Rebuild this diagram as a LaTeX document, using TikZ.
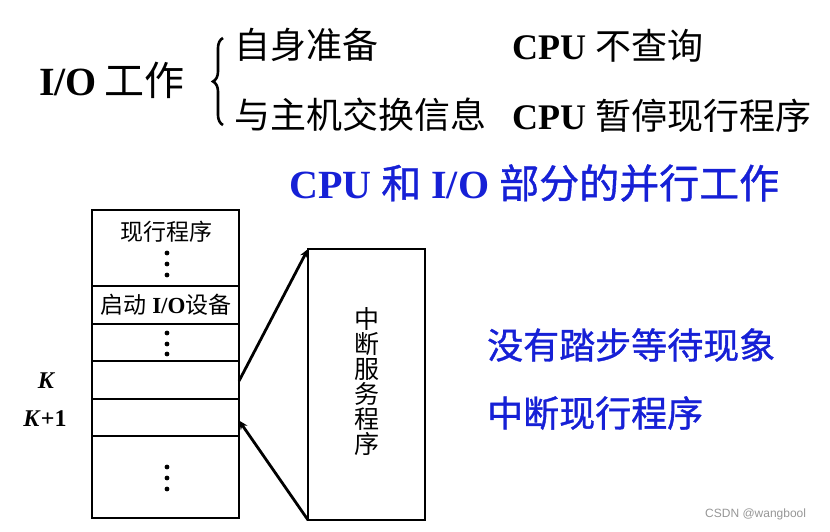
\documentclass[tikz,border=0pt]{standalone}
\usepackage{fontspec}
\setmainfont{Liberation Serif}
\newfontfamily\cjk{Noto Sans CJK SC}
\newfontfamily\cjkb[FakeBold=1]{Noto Sans CJK SC}
\newfontfamily\wm{Liberation Sans}
\usetikzlibrary{arrows.meta,decorations.pathreplacing}
\definecolor{tblue}{RGB}{22,32,214}
\definecolor{wmgray}{RGB}{150,150,150}
\begin{document}
\begin{tikzpicture}[x=1pt,y=-1pt,
  cell/.style={draw,line width=2.7pt,anchor=north west,minimum width=147pt,inner sep=0pt,outer sep=0pt},
  lbl/.style={inner sep=0pt,anchor=west},
  dot/.style={fill,circle,inner sep=0pt,minimum size=4.8pt},
  conn/.style={line width=2.8pt,-{Stealth[length=9pt,width=8pt]}}]
\useasboundingbox (0,0) rectangle (830,531);
% top section
\node[lbl,font=\bfseries\fontsize{40}{42}\selectfont] (io) at (39,80) {I/O\hspace{0.2em}{\cjk\mdseries 工作}};
\draw[line width=2.6pt,decorate,decoration={brace,amplitude=10pt}] (223,125) -- (223,38);
\node[lbl,font=\cjk\fontsize{36}{38}\selectfont] (self) at (234,45) {自身准备};
\node[lbl,font=\cjk\fontsize{36}{38}\selectfont] (exch) at (234,115) {与主机交换信息};
\node[lbl,font=\bfseries\fontsize{36}{38}\selectfont] (cpu1) at (512,46) {CPU {\cjk\mdseries 不查询}};
\node[lbl,font=\bfseries\fontsize{36}{38}\selectfont] (cpu2) at (512,116) {CPU {\cjk\mdseries 暂停现行程序}};
% blue title
\node[lbl,text=tblue,font=\bfseries\fontsize{40}{42}\selectfont] (title) at (289,183) {CPU {\cjkb\mdseries 和} I/O {\cjkb\mdseries 部分的并行工作}};
\node[lbl,text=tblue,font=\cjkb\fontsize{36}{38}\selectfont] (nowait) at (487,345) {没有踏步等待现象};
\node[lbl,text=tblue,font=\cjkb\fontsize{36}{38}\selectfont] (intr) at (487,413) {中断现行程序};
% program column
\node[cell,minimum height=76pt] (r1) at (92,210) {};
\node[cell,minimum height=38pt] (r2) at (92,286) {};
\node[cell,minimum height=37pt] (r3) at (92,324) {};
\node[cell,minimum height=38pt] (r4) at (92,361) {};
\node[cell,minimum height=37pt] (r5) at (92,399) {};
\node[cell,minimum height=82pt] (r6) at (92,436) {};
\node[font=\cjk\fontsize{23}{25}\selectfont,inner sep=0pt] (t1) at (166,232) {现行程序};
\node[font=\fontsize{23}{25}\selectfont,inner sep=0pt] (t2) at (166,305) {{\cjk 启动} \textbf{I/O}{\cjk 设备}};
\foreach \y in {253,264,275} \node[dot] at (167,\y) {};
\foreach \y in {333,344,354} \node[dot] at (167,\y) {};
\foreach \y in {467,478,489} \node[dot] at (167,\y) {};
\node[font=\bfseries\itshape\fontsize{24}{26}\selectfont,inner sep=0pt] (k) at (46,381) {K};
\node[font=\bfseries\fontsize{24}{26}\selectfont,inner sep=0pt] (k1) at (45,419) {\textit{K}+1};
% interrupt service routine
\node[draw,line width=2.7pt,anchor=north west,minimum width=117pt,minimum height=271pt,inner sep=0pt,outer sep=0pt] (isr) at (308,249) {};
\node[font=\cjk\fontsize{25}{25}\selectfont,align=center,inner sep=0pt] (isrt) at (367,382) {中\\断\\服\\务\\程\\序};
% connectors
\coordinate (kout) at ([yshift=-1pt]r4.east);
\draw[conn] (kout) -- (isr.north west);
\draw[conn] (isr.south west) -- ([yshift=-3pt]r5.east);
% watermark
\node[lbl,text=wmgray,font=\wm\fontsize{12}{12}\selectfont] (wmk) at (705,514) {CSDN @wangbool};
\end{tikzpicture}
\end{document}
